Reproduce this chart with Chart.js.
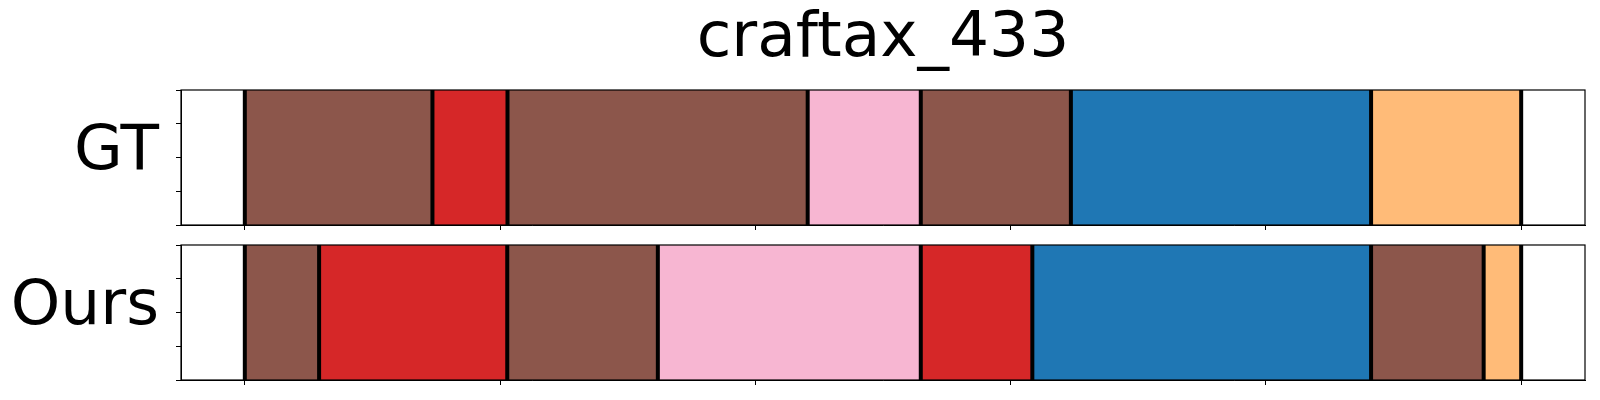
<!DOCTYPE html>
<html>
<head>
<meta charset="utf-8">
<script src="https://cdn.jsdelivr.net/npm/chart.js@4"></script>
<style>
  body { margin: 0; background: #fff; }
  canvas { position: absolute; left: 0; }
  #gtChart { top: 0; }
  #oursChart { top: 232px; }
</style>
</head>
<body>
<canvas id="gtChart" width="1600" height="232"></canvas>
<canvas id="oursChart" width="1600" height="168"></canvas>
<script>
// Segment data (frame boundaries + class of each segment)
const titleText = 'craftax_433';
const rowLabels = ['GT', 'Ours'];
const gtBreaks = [0, 73.5, 102.9, 220.5, 264.8, 323.6, 441.2, 500];
const gtClasses = ['brown', 'red', 'brown', 'pink', 'brown', 'blue', 'orange'];
const oursBreaks = [0, 29.1, 102.8, 161.8, 264.8, 308.5, 441.2, 485.3, 500];
const oursClasses = ['brown', 'red', 'brown', 'pink', 'red', 'blue', 'brown', 'orange'];
const xTicks = [0, 100, 200, 300, 400, 500];
const yTicks = [0, 0.25, 0.5, 0.75, 1];

// tab20 colours
const classColors = {
  blue: '#1f77b4',
  orange: '#ffbb78',
  red: '#d62728',
  brown: '#8c564b',
  pink: '#f7b6d2'
};

const FONT = 'DejaVu Sans';
const xMin = -0.05 * xTicks[xTicks.length - 1];
const xMax = 1.05 * xTicks[xTicks.length - 1];

// black separators at every boundary + full frame
const segmentLines = {
  id: 'segmentLines',
  afterDatasetsDraw(chart, args, opts) {
    const ctx = chart.ctx;
    const area = chart.chartArea;
    const x = chart.scales.x;
    ctx.save();
    ctx.strokeStyle = '#000';
    ctx.lineWidth = 4;
    opts.breaks.forEach(b => {
      const px = x.getPixelForValue(b);
      ctx.beginPath();
      ctx.moveTo(px, area.top);
      ctx.lineTo(px, area.bottom);
      ctx.stroke();
    });
    ctx.restore();
  },
  afterDraw(chart) {
    const ctx = chart.ctx;
    const a = chart.chartArea;
    ctx.save();
    ctx.strokeStyle = '#000';
    ctx.lineWidth = 1.2;
    ctx.strokeRect(a.left, a.top, a.right - a.left, a.bottom - a.top);
    ctx.restore();
  }
};

function makeChart(canvasId, rowLabel, breaks, classes, showTitle) {
  const segs = classes.map((c, i) => ({ x: [breaks[i], breaks[i + 1]], y: 0.5 }));
  return new Chart(document.getElementById(canvasId), {
    type: 'bar',
    data: {
      datasets: [{
        data: segs,
        yAxisID: 'yBar',
        backgroundColor: classes.map(c => classColors[c]),
        borderWidth: 0,
        barPercentage: 1,
        categoryPercentage: 1
      }]
    },
    options: {
      indexAxis: 'y',
      responsive: false,
      animation: false,
      layout: { padding: showTitle ? { left: 0, right: 15, top: 0, bottom: 0 } : { left: 0, right: 15, top: 13, bottom: 13 } },
      plugins: {
        legend: { display: false },
        tooltip: { enabled: false },
        title: {
          display: showTitle,
          text: titleText,
          fullSize: false,
          color: '#000',
          font: { family: FONT, size: 63, weight: 'normal', lineHeight: 1 },
          padding: { top: 8, bottom: 19 }
        },
        segmentLines: { breaks: breaks }
      },
      scales: {
        x: {
          type: 'linear',
          min: xMin,
          max: xMax,
          offset: false,
          afterBuildTicks: axis => { axis.ticks = xTicks.map(v => ({ value: v })); },
          afterFit: scale => { scale.height = 7; },
          ticks: { display: false },
          grid: { offset: false, drawOnChartArea: false, drawTicks: true, tickLength: 5, color: '#000', tickWidth: 1 },
          border: { display: true, color: '#000', width: 1 }
        },
        y: {
          type: 'linear',
          position: 'left',
          min: 0,
          max: 1,
          offset: false,
          afterBuildTicks: axis => { axis.ticks = yTicks.map(v => ({ value: v })); },
          afterFit: scale => {
            scale.width = 181;
            scale.paddingTop = 0;
            scale.paddingBottom = 0;
          },
          ticks: {
            autoSkip: false,
            padding: 17,
            labelOffset: -5,
            color: '#000',
            callback: v => (v === 0.5 ? rowLabel : ''),
            font: ctx => ({ family: FONT, size: ctx.tick && ctx.tick.value === 0.5 ? 63 : 1 })
          },
          grid: { offset: false, drawOnChartArea: false, drawTicks: true, tickLength: 5, color: '#000', tickWidth: 1 },
          border: { display: true, color: '#000', width: 1 }
        },
        yBar: {
          type: 'linear',
          display: false,
          min: 0,
          max: 1,
          offset: false,
          grid: { offset: false },
          afterBuildTicks: axis => { axis.ticks = [{ value: 0 }, { value: 1 }]; },
          afterFit: scale => { scale.paddingTop = 0; scale.paddingBottom = 0; }
        }
      }
    },
    plugins: [segmentLines]
  });
}

makeChart('gtChart', rowLabels[0], gtBreaks, gtClasses, true);
makeChart('oursChart', rowLabels[1], oursBreaks, oursClasses, false);
</script>
</body>
</html>
